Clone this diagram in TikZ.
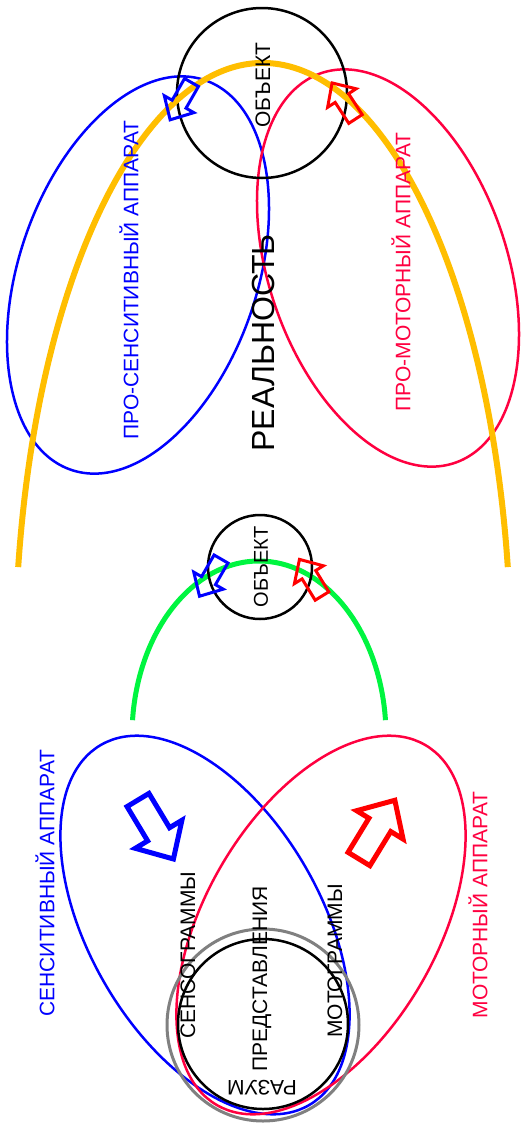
\documentclass[tikz,border=0pt]{standalone}
\usepackage{fontspec}
\setmainfont{Liberation Sans}
\definecolor{cblue}{RGB}{0,0,255}
\definecolor{ccrim}{RGB}{255,0,64}
\definecolor{corange}{RGB}{255,190,0}
\definecolor{cgreen}{RGB}{0,245,64}
\definecolor{cred}{RGB}{255,0,0}
\definecolor{cgray}{RGB}{128,128,128}
\newcommand\blockarr[6]{%
  \draw[#5, line width=#6, line join=miter, shift={(#1,#2)}, rotate=#3, scale=#4]
    (0,-8) -- (25,-8) -- (25,-17) -- (43,0) -- (25,17) -- (25,8) -- (0,8) -- cycle;}
\begin{document}
\begin{tikzpicture}[x=1pt,y=-1pt,
  ell/.style={line width=2.5pt},
  ring/.style={draw, circle, inner sep=0pt, line width=2.5pt},
  lbl/.style={inner sep=0pt, rotate=90, font=\fontsize{21}{21}\selectfont},
  big/.style={inner sep=0pt, rotate=90, font=\fontsize{32}{32}\selectfont}]
\fill[white] (0,0) rectangle (527,1128);
\useasboundingbox (0,0) rectangle (527,1128);

% ---------- top: reality ----------
\draw[cblue, ell, rotate around={71:(138,275)}] (138,275) ellipse[x radius=206, y radius=119];
\draw[ccrim, ell, rotate around={109:(388,268)}] (388,268) ellipse[x radius=206, y radius=119];
\node[ring, minimum size=170pt] (obj1c) at (262,93) {};
\draw[corange, line width=6pt] (263,663) ++(189.2:248 and 600)
  arc[start angle=189.2, end angle=350.8, x radius=248, y radius=600];
\node[lbl] (obj1) at (263,85) {ОБЪЕКТ};
\node[big] (real) at (263,343) {РЕАЛЬНОСТЬ};
\node[lbl, text=cblue] (prosens) at (129,280) {ПРО-СЕНСИТИВНЫЙ АППАРАТ};
\node[lbl, text=ccrim] (promot) at (401,272) {ПРО-МОТОРНЫЙ АППАРАТ};
\blockarr{191.5}{82.5}{240.2}{1}{cblue}{3pt}
\blockarr{355.5}{119}{123}{1}{cred}{3pt}

% ---------- middle: object ----------
\draw[cgreen, line width=5pt] (259,736) ++(185.2:127 and 175)
  arc[start angle=185.2, end angle=354.8, x radius=127, y radius=175];
\node[ring, minimum size=104pt] (obj2c) at (260,567) {};
\node[lbl, font=\fontsize{20}{20}\selectfont] (obj2) at (261,567) {ОБЪЕКТ};
\blockarr{221}{559}{240}{1}{cblue}{3pt}
\blockarr{322}{596}{121.6}{1}{cred}{3pt}

% ---------- bottom: mind ----------
\draw[cblue, ell, rotate around={-60:(205,925)}] (205,925) ellipse[x radius=208, y radius=116];
\draw[ccrim, ell, rotate around={60:(321,925)}] (321,925) ellipse[x radius=208, y radius=116];
\node[ring, draw=cgray, line width=3pt, minimum size=192pt] (mindo) at (263,1025) {};
\node[ring, minimum size=170pt] (mind) at (263,1024) {};
\node[lbl, text=cblue] (sens) at (45,883) {СЕНСИТИВНЫЙ АППАРАТ};
\node[lbl, text=ccrim] (mot) at (478,905) {МОТОРНЫЙ АППАРАТ};
\node[lbl] (sgr) at (188,955) {СЕНСОГРАММЫ};
\node[lbl] (pred) at (262,979) {ПРЕДСТАВЛЕНИЯ};
\node[lbl] (mgr) at (335,961) {МОТОГРАММЫ};
\node[inner sep=0pt, rotate=180, font=\fontsize{21}{21}\selectfont] (razum) at (262,1088) {РАЗУМ};
\blockarr{138}{800}{-59}{1.6}{cblue}{5pt}
\blockarr{359}{859}{58.6}{1.6}{cred}{5pt}
\end{tikzpicture}
\end{document}
